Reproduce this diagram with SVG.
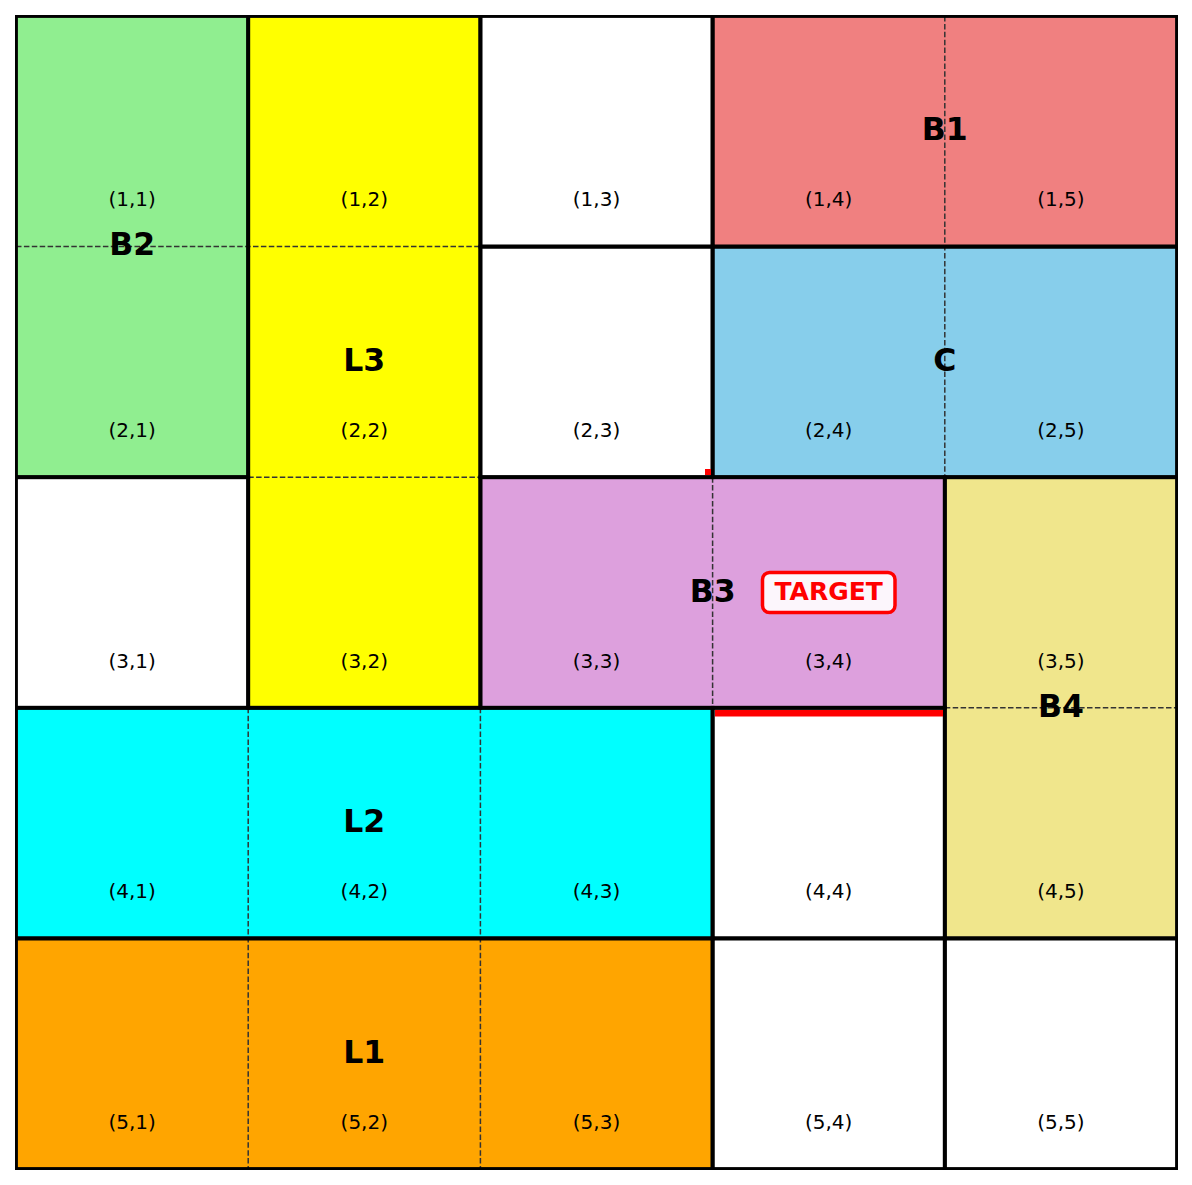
<svg xmlns="http://www.w3.org/2000/svg" width="1192" height="1185" viewBox="0 0 1192 1185">
<style>
.frame{fill:none;stroke:#000;stroke-width:3.8}
.dash{stroke:#333;stroke-width:1.5;stroke-dasharray:5.5 2.4;fill:none}
.big{font-family:"DejaVu Sans",sans-serif;font-weight:bold;font-size:31.5px;text-anchor:middle;dominant-baseline:central;fill:#000}
.cell{font-family:"DejaVu Sans",sans-serif;font-size:20px;text-anchor:middle;dominant-baseline:central;fill:#000}
</style>
<defs>
<clipPath id="gridclip"><rect x="16" y="16" width="1161" height="1153"/></clipPath>
</defs>
<rect width="1192" height="1185" fill="#fff"/>
<g id="fills">
<g id="B2"><rect x="16" y="16" width="232.2" height="461.2" fill="#90EE90"/></g>
<g id="L3"><rect x="248.2" y="16" width="232.2" height="691.8" fill="#FFFF00"/></g>
<g id="W13"><rect x="480.4" y="16" width="232.2" height="230.6" fill="#fff"/></g>
<g id="B1"><rect x="712.6" y="16" width="464.4" height="230.6" fill="#F08080"/></g>
<g id="W23"><rect x="480.4" y="246.6" width="232.2" height="230.6" fill="#fff"/></g>
<g id="C"><rect x="712.6" y="246.6" width="464.4" height="230.6" fill="#87CEEB"/></g>
<g id="W31"><rect x="16" y="477.2" width="232.2" height="230.6" fill="#fff"/></g>
<g id="B3"><rect x="480.4" y="477.2" width="464.4" height="230.6" fill="#DDA0DD"/></g>
<g id="B4"><rect x="944.8" y="477.2" width="232.2" height="461.2" fill="#F0E68C"/></g>
<g id="L2"><rect x="16" y="707.8" width="696.6" height="230.6" fill="#00FFFF"/></g>
<g id="W44"><rect x="712.6" y="707.8" width="232.2" height="230.6" fill="#fff"/></g>
<g id="L1"><rect x="16" y="938.4" width="696.6" height="230.6" fill="#FFA500"/></g>
<g id="W54"><rect x="712.6" y="938.4" width="232.2" height="230.6" fill="#fff"/></g>
<g id="W55"><rect x="944.8" y="938.4" width="232.2" height="230.6" fill="#fff"/></g>
</g>
<g id="connectors">
<line class="dash" x1="16" y1="246.6" x2="480.4" y2="246.6"/>
<line class="dash" x1="248.2" y1="477.2" x2="480.4" y2="477.2"/>
<line class="dash" x1="944.8" y1="16" x2="944.8" y2="477.2"/>
<line class="dash" x1="712.6" y1="477.2" x2="712.6" y2="707.8"/>
<line class="dash" x1="944.8" y1="707.8" x2="1177" y2="707.8"/>
<line class="dash" x1="248.2" y1="707.8" x2="248.2" y2="1169"/>
<line class="dash" x1="480.4" y1="707.8" x2="480.4" y2="1169"/>
</g>
<g id="borders">
<g clip-path="url(#gridclip)">
<rect class="frame" x="16" y="16" width="232.2" height="461.2"/>
<rect class="frame" x="248.2" y="16" width="232.2" height="691.8"/>
<rect class="frame" x="480.4" y="16" width="232.2" height="230.6"/>
<rect class="frame" x="712.6" y="16" width="464.4" height="230.6"/>
<rect class="frame" x="480.4" y="246.6" width="232.2" height="230.6"/>
<rect class="frame" x="712.6" y="246.6" width="464.4" height="230.6"/>
<rect class="frame" x="16" y="477.2" width="232.2" height="230.6"/>
<rect class="frame" x="480.4" y="477.2" width="464.4" height="230.6"/>
<rect class="frame" x="944.8" y="477.2" width="232.2" height="461.2"/>
<rect class="frame" x="16" y="707.8" width="696.6" height="230.6"/>
<rect class="frame" x="712.6" y="707.8" width="232.2" height="230.6"/>
<rect class="frame" x="16" y="938.4" width="696.6" height="230.6"/>
<rect class="frame" x="712.6" y="938.4" width="232.2" height="230.6"/>
<rect class="frame" x="944.8" y="938.4" width="232.2" height="230.6"/>
</g>
<rect x="16" y="16" width="1161" height="1153" fill="none" stroke="#000" stroke-width="2"/>
</g>
<g id="marks">
<rect x="705" y="469" width="6" height="6" fill="#FF0000"/>
<rect x="715" y="710" width="228" height="6.5" fill="#FF0000"/>
</g>
<g id="cell-labels">
<text class="cell" x="132.1" y="199.3">(1,1)</text>
<text class="cell" x="364.3" y="199.3">(1,2)</text>
<text class="cell" x="596.5" y="199.3">(1,3)</text>
<text class="cell" x="828.7" y="199.3">(1,4)</text>
<text class="cell" x="1060.9" y="199.3">(1,5)</text>
<text class="cell" x="132.1" y="429.9">(2,1)</text>
<text class="cell" x="364.3" y="429.9">(2,2)</text>
<text class="cell" x="596.5" y="429.9">(2,3)</text>
<text class="cell" x="828.7" y="429.9">(2,4)</text>
<text class="cell" x="1060.9" y="429.9">(2,5)</text>
<text class="cell" x="132.1" y="660.5">(3,1)</text>
<text class="cell" x="364.3" y="660.5">(3,2)</text>
<text class="cell" x="596.5" y="660.5">(3,3)</text>
<text class="cell" x="828.7" y="660.5">(3,4)</text>
<text class="cell" x="1060.9" y="660.5">(3,5)</text>
<text class="cell" x="132.1" y="891.1">(4,1)</text>
<text class="cell" x="364.3" y="891.1">(4,2)</text>
<text class="cell" x="596.5" y="891.1">(4,3)</text>
<text class="cell" x="828.7" y="891.1">(4,4)</text>
<text class="cell" x="1060.9" y="891.1">(4,5)</text>
<text class="cell" x="132.1" y="1121.7">(5,1)</text>
<text class="cell" x="364.3" y="1121.7">(5,2)</text>
<text class="cell" x="596.5" y="1121.7">(5,3)</text>
<text class="cell" x="828.7" y="1121.7">(5,4)</text>
<text class="cell" x="1060.9" y="1121.7">(5,5)</text>
</g>
<g id="region-labels">
<text class="big" x="132.1" y="244.4">B2</text>
<text class="big" x="364.3" y="359.9">L3</text>
<text class="big" x="944.8" y="129.3">B1</text>
<text class="big" x="944.8" y="359.9">C</text>
<text class="big" x="712.6" y="590.5">B3</text>
<text class="big" x="1060.9" y="705.8">B4</text>
<text class="big" x="364.3" y="821.1">L2</text>
<text class="big" x="364.3" y="1051.7">L1</text>
</g>
<g id="target">
<rect x="762.5" y="572.5" width="132.5" height="40" rx="7" fill="#fff" fill-opacity="0.9" stroke="#FF0000" stroke-width="3.5"/>
<text x="828.7" y="591.5" font-family="DejaVu Sans, sans-serif" font-weight="bold" font-size="25" fill="#FF0000" text-anchor="middle" dominant-baseline="central">TARGET</text>
</g>
</svg>
